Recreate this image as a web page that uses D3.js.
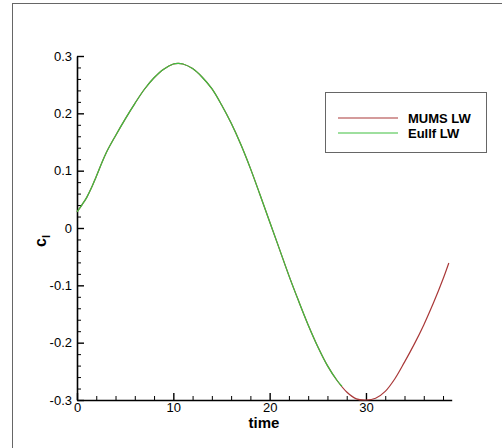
<!DOCTYPE html>
<html><head><meta charset="utf-8">
<script src="https://cdn.jsdelivr.net/npm/d3@7"></script>
<style>body{margin:0;background:#fff;} text{font-family:"Liberation Sans",Arial,sans-serif;}</style>
</head><body>
<svg id="c" width="502" height="448"></svg>
<script>
const seriesNames = ["MUMS LW", "Eullf LW"];
const seriesColors = ["#a93838", "#3fbf3f"];
const eullfTime = [0,0.5,1,1.5,2,3,4,5,6,7,8,9,10,10.5,11,12,13,14,15,16,17,18,19,20,21,22,23,24,25,26,27,27.5];
const eullfCl   = [0.028,0.04,0.053,0.07,0.09,0.13,0.161,0.19,0.217,0.242,0.262,0.277,0.286,0.287,0.286,0.278,0.263,0.243,0.215,0.183,0.146,0.104,0.058,0.011,-0.036,-0.083,-0.127,-0.169,-0.207,-0.24,-0.266,-0.276];
const mumsTime = [0,0.5,1,1.5,2,3,4,5,6,7,8,9,10,10.5,11,12,13,14,15,16,17,18,19,20,21,22,23,24,25,26,27,28,29,30,31,32,33,34,35,36,37,38,38.6];
const mumsCl   = [0.028,0.04,0.053,0.07,0.09,0.13,0.161,0.19,0.217,0.242,0.262,0.277,0.286,0.287,0.286,0.278,0.263,0.243,0.215,0.183,0.146,0.104,0.058,0.011,-0.036,-0.083,-0.127,-0.169,-0.207,-0.24,-0.266,-0.286,-0.298,-0.3,-0.297,-0.285,-0.263,-0.234,-0.203,-0.169,-0.131,-0.089,-0.061];
const xTicks = [0,10,20,30];
const xMinor = [2,4,6,8,12,14,16,18,22,24,26,28,32,34,36,38];
const yTicks = [-0.3,-0.2,-0.1,0,0.1,0.2,0.3];
const yMinor = [-0.28,-0.26,-0.24,-0.22,-0.18,-0.16,-0.14,-0.12,-0.08,-0.06,-0.04,-0.02,0.02,0.04,0.06,0.08,0.12,0.14,0.16,0.18,0.22,0.24,0.26,0.28];

const svg = d3.select("#c");
svg.append("rect").attr("x",12.5).attr("y",3.5).attr("width",600).attr("height",600)
  .attr("fill","none").attr("stroke","#666").attr("stroke-width",1);

const x = d3.scaleLinear().domain([0,38.9]).range([77,451.7]);
const y = d3.scaleLinear().domain([-0.3,0.3]).range([400,56]);

const fmt = d => d===0 ? "0" : d3.format(".1f")(d).replace("\u2212","-");

// minor ticks
svg.append("g").attr("transform",`translate(0,${y(-0.3)})`)
  .call(d3.axisBottom(x).tickValues(xMinor).tickSize(-4).tickSizeOuter(0).tickFormat(""))
  .call(g=>g.select(".domain").remove())
  .selectAll("line").attr("stroke","#000").attr("stroke-width",1);
svg.append("g").attr("transform",`translate(${x(0)},0)`)
  .call(d3.axisLeft(y).tickValues(yMinor).tickSize(-4).tickSizeOuter(0).tickFormat(""))
  .call(g=>g.select(".domain").remove())
  .selectAll("line").attr("stroke","#000").attr("stroke-width",1);

// major axes
const gx = svg.append("g").attr("transform",`translate(0,${y(-0.3)})`)
  .call(d3.axisBottom(x).tickValues(xTicks).tickSize(-7).tickSizeOuter(0).tickPadding(3).tickFormat(d3.format("d")));
gx.select(".domain").attr("stroke","#000").attr("stroke-width",1.6);
gx.selectAll("line").attr("stroke","#000").attr("stroke-width",1.4);
gx.selectAll("text").attr("font-size",13).attr("fill","#000").attr("font-family","Liberation Sans, Arial, sans-serif");

const gy = svg.append("g").attr("transform",`translate(${x(0)},0)`)
  .call(d3.axisLeft(y).tickValues(yTicks).tickSize(-7).tickSizeOuter(0).tickPadding(5).tickFormat(fmt));
gy.select(".domain").attr("stroke","#000").attr("stroke-width",1.6);
gy.selectAll("line").attr("stroke","#000").attr("stroke-width",1.4);
gy.selectAll("text").attr("font-size",13).attr("fill","#000").attr("font-family","Liberation Sans, Arial, sans-serif");

// lines
const line = d3.line().x(d=>x(d[0])).y(d=>y(d[1])).curve(d3.curveCatmullRom.alpha(0.5));
const mums = mumsTime.map((t,i)=>[t,mumsCl[i]]);
const eullf = eullfTime.map((t,i)=>[t,eullfCl[i]]);
svg.append("path").datum(mums).attr("d",line).attr("fill","none")
  .attr("stroke",seriesColors[0]).attr("stroke-width",1.2);
svg.append("path").datum(eullf).attr("d",line).attr("fill","none")
  .attr("stroke",seriesColors[1]).attr("stroke-width",1.2);

// axis titles
svg.append("text").attr("x",264).attr("y",428).attr("text-anchor","middle")
  .attr("font-size",15).attr("font-weight","bold").text("time");
const yl = svg.append("text").attr("transform","translate(46,241) rotate(-90)")
  .attr("text-anchor","middle").attr("font-size",16).attr("font-weight","bold");
yl.append("tspan").text("c");
yl.append("tspan").attr("font-size",11).attr("dy",4).text("l");

// legend
svg.append("rect").attr("x",325.5).attr("y",92.5).attr("width",161).attr("height",60)
  .attr("fill","#fff").attr("stroke","#666").attr("stroke-width",1);
seriesNames.forEach((n,i)=>{
  const yy = 118 + i*15;
  svg.append("line").attr("x1",338).attr("x2",398).attr("y1",yy).attr("y2",yy)
    .attr("stroke",seriesColors[i]).attr("stroke-width",1.2);
  svg.append("text").attr("x",408).attr("y",yy+4.5).attr("font-size",13)
    .attr("font-weight","bold").text(n);
});
</script>
</body></html>
